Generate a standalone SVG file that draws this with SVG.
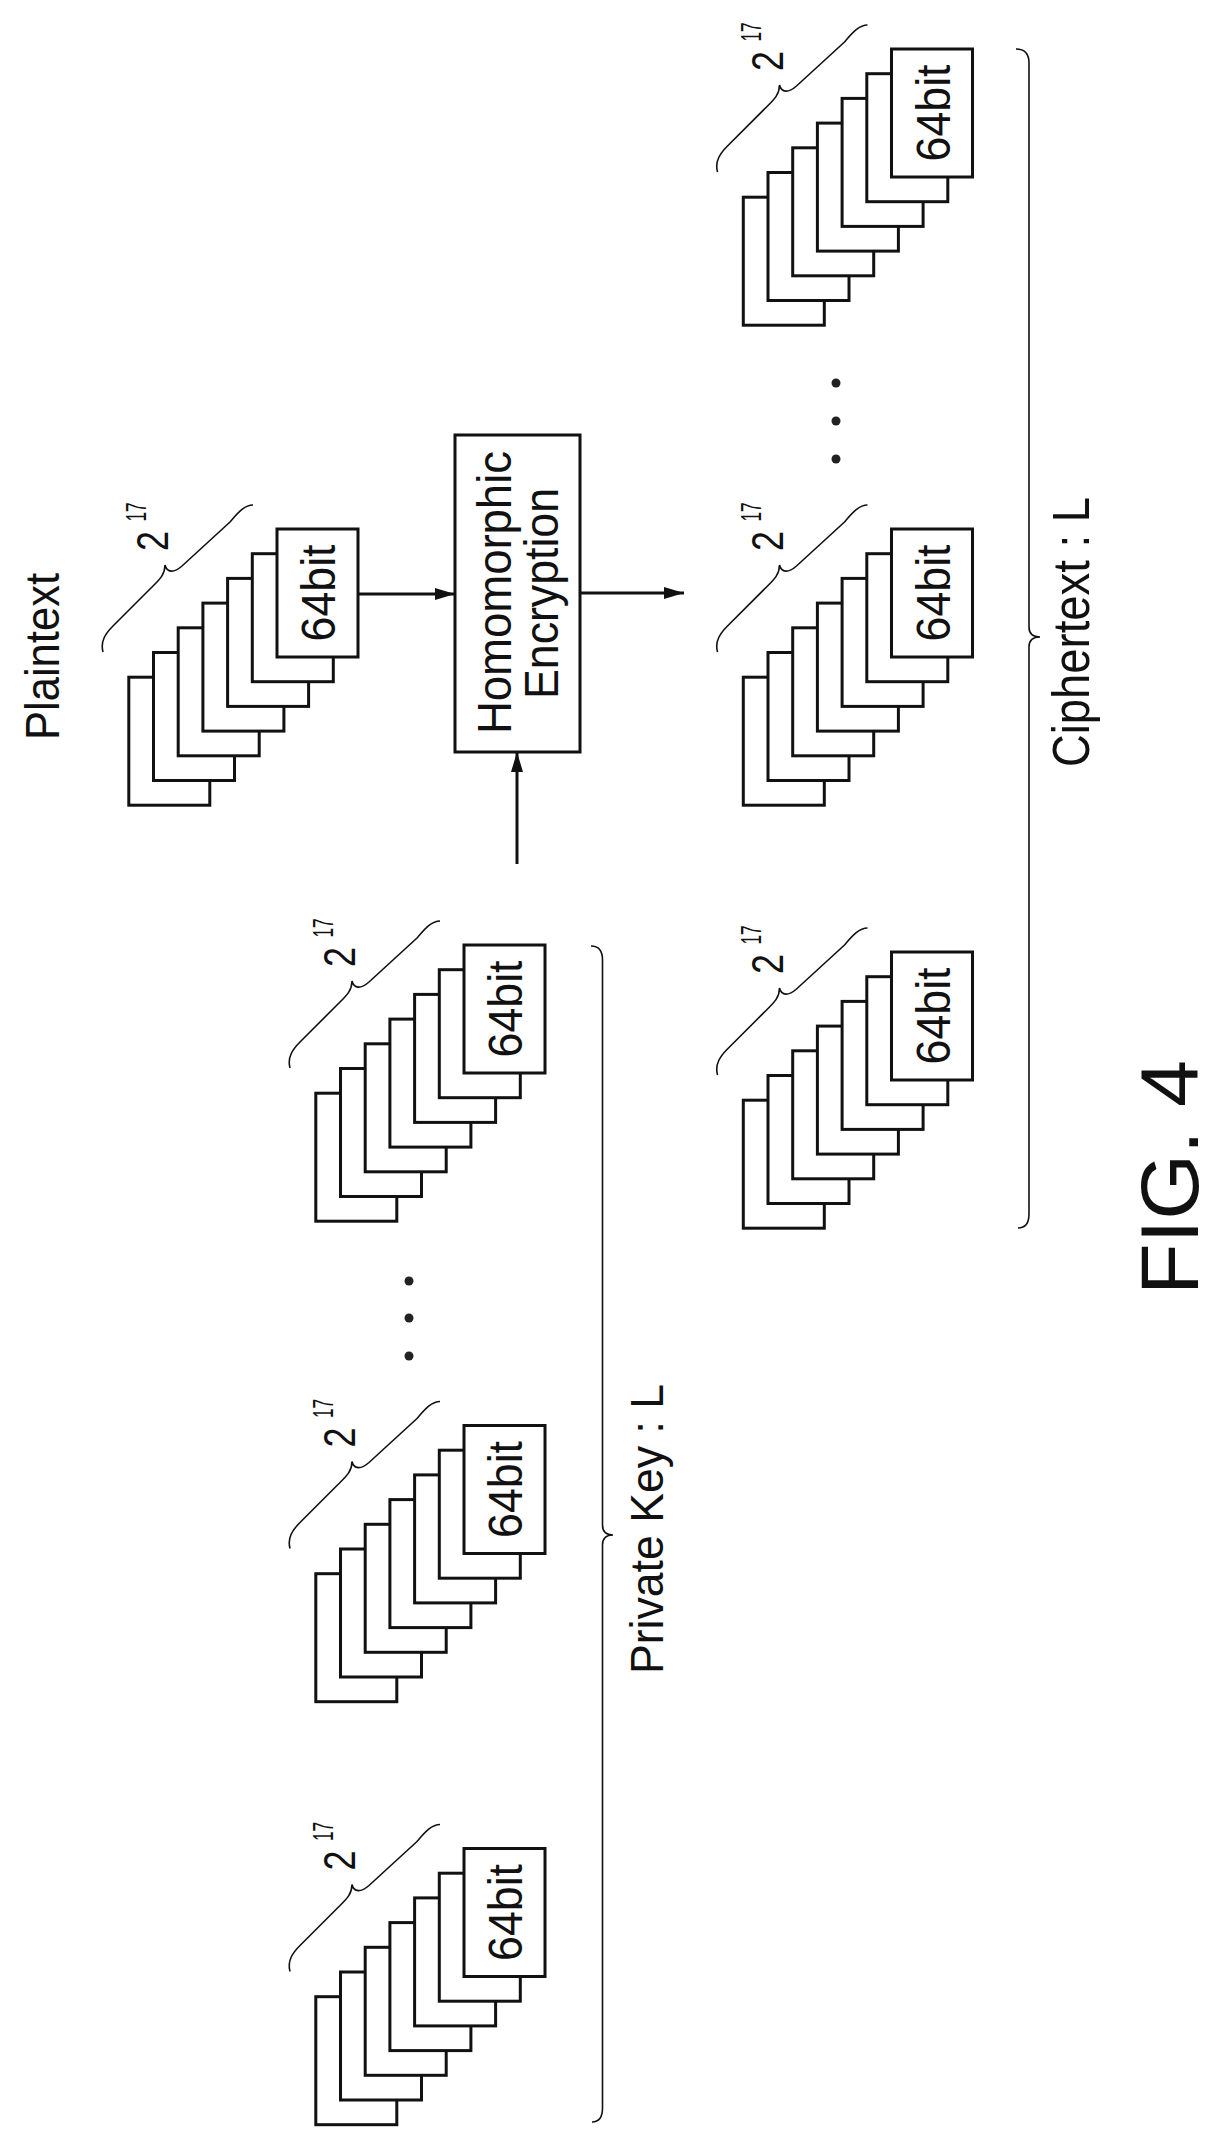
<svg xmlns="http://www.w3.org/2000/svg" xmlns:xlink="http://www.w3.org/1999/xlink" width="1216" height="2147" viewBox="0 0 1216 2147">
<style>
.pg{fill:#fff;stroke:#111;stroke-width:3}
.br{fill:none;stroke:#111;stroke-width:1.6}
.ln{fill:none;stroke:#111;stroke-width:3}
.t{font-family:"Liberation Sans",Arial,sans-serif;fill:#111;text-anchor:middle}
.dot{fill:#222}
</style>
<defs>
<marker id="ah" viewBox="0 0 20 12" refX="20" refY="6" markerWidth="20" markerHeight="12" markerUnits="userSpaceOnUse" orient="auto">
<path d="M0,0 L20,6 L0,12 Z" fill="#111"/>
</marker>
<g id="stack">
<rect class="pg" x="-148.2" y="148.2" width="81" height="128"/>
<rect class="pg" x="-123.5" y="123.5" width="81" height="128"/>
<rect class="pg" x="-98.8" y="98.8" width="81" height="128"/>
<rect class="pg" x="-74.1" y="74.1" width="81" height="128"/>
<rect class="pg" x="-49.4" y="49.4" width="81" height="128"/>
<rect class="pg" x="-24.7" y="24.7" width="81" height="128"/>
<rect class="pg" x="0" y="0" width="81" height="128"/>
<text class="t" font-size="48" textLength="97" lengthAdjust="spacingAndGlyphs" transform="translate(58,64) rotate(-90)">64bit</text>
<path class="br" d="M-174,123 C-177,112 -171,104 -164,97 L-126,59 C-118,51 -112,46 -112,36 C-110,44 -103,44 -95,37 L-47,-7 C-40,-15 -33,-24 -24,-24"/>
<text class="t" font-size="44" textLength="20" lengthAdjust="spacingAndGlyphs" transform="translate(-109,12) rotate(-90)">2</text>
<text class="t" font-size="30" textLength="19" lengthAdjust="spacingAndGlyphs" transform="translate(-131,-17) rotate(-90)">17</text>
</g>
</defs>

<g id="plaintext-label"><text class="t" font-size="48" textLength="167" lengthAdjust="spacingAndGlyphs" transform="translate(59,656.5) rotate(-90)">Plaintext</text></g>
<g id="plaintext"><use xlink:href="#stack" href="#stack" x="277" y="529"/></g>

<g id="he">
<rect class="ln" x="455" y="435" width="125" height="317" fill="#fff"/>
<text class="t" font-size="48" textLength="283" lengthAdjust="spacingAndGlyphs" transform="translate(511,592.5) rotate(-90)">Homomorphic</text>
<text class="t" font-size="48" textLength="211" lengthAdjust="spacingAndGlyphs" transform="translate(558,593.5) rotate(-90)">Encryption</text>
</g>

<g id="key1"><use xlink:href="#stack" href="#stack" x="464" y="945"/></g>
<g id="key2"><use xlink:href="#stack" href="#stack" x="464" y="1425.5"/></g>
<g id="key3"><use xlink:href="#stack" href="#stack" x="464" y="1848.5"/></g>
<g id="key-dots"><circle class="dot" cx="409" cy="1281" r="4.5"/><circle class="dot" cx="409" cy="1318" r="4.5"/><circle class="dot" cx="409" cy="1356" r="4.5"/></g>
<g id="key-brace">
<path class="br" d="M591,946 Q602.5,946 602.5,960 L602.5,1525 Q602.5,1535 613,1535 Q602.5,1535 602.5,1545 L602.5,2108 Q602.5,2122 592,2122"/>
<text class="t" font-size="46" textLength="290" lengthAdjust="spacingAndGlyphs" transform="translate(662.5,1529) rotate(-90)">Private Key : L</text>
</g>

<g id="cipher1"><use xlink:href="#stack" href="#stack" x="891.5" y="49"/></g>
<g id="cipher2"><use xlink:href="#stack" href="#stack" x="891.5" y="529"/></g>
<g id="cipher3"><use xlink:href="#stack" href="#stack" x="891.5" y="952"/></g>
<g id="cipher-dots"><circle class="dot" cx="836" cy="383" r="4.5"/><circle class="dot" cx="836" cy="421" r="4.5"/><circle class="dot" cx="836" cy="459" r="4.5"/></g>
<g id="cipher-brace">
<path class="br" d="M1016,49 Q1029,49 1029,63 L1029,627 Q1029,637 1040,637 Q1029,637 1029,647 L1029,1214 Q1029,1228 1018,1228"/>
<text class="t" font-size="52" textLength="270" lengthAdjust="spacingAndGlyphs" transform="translate(1089,632) rotate(-90)">Ciphertext : L</text>
</g>

<g id="connectors">
<line class="ln" x1="357" y1="594" x2="455" y2="594" marker-end="url(#ah)"/>
<line class="ln" x1="580" y1="593" x2="684" y2="593" marker-end="url(#ah)"/>
<line class="ln" x1="517" y1="864" x2="517" y2="752" marker-end="url(#ah)"/>
</g>

<g id="caption"><text class="t" font-size="82" textLength="235" lengthAdjust="spacingAndGlyphs" transform="translate(1198,1177.5) rotate(-90)">FIG. 4</text></g>
</svg>
